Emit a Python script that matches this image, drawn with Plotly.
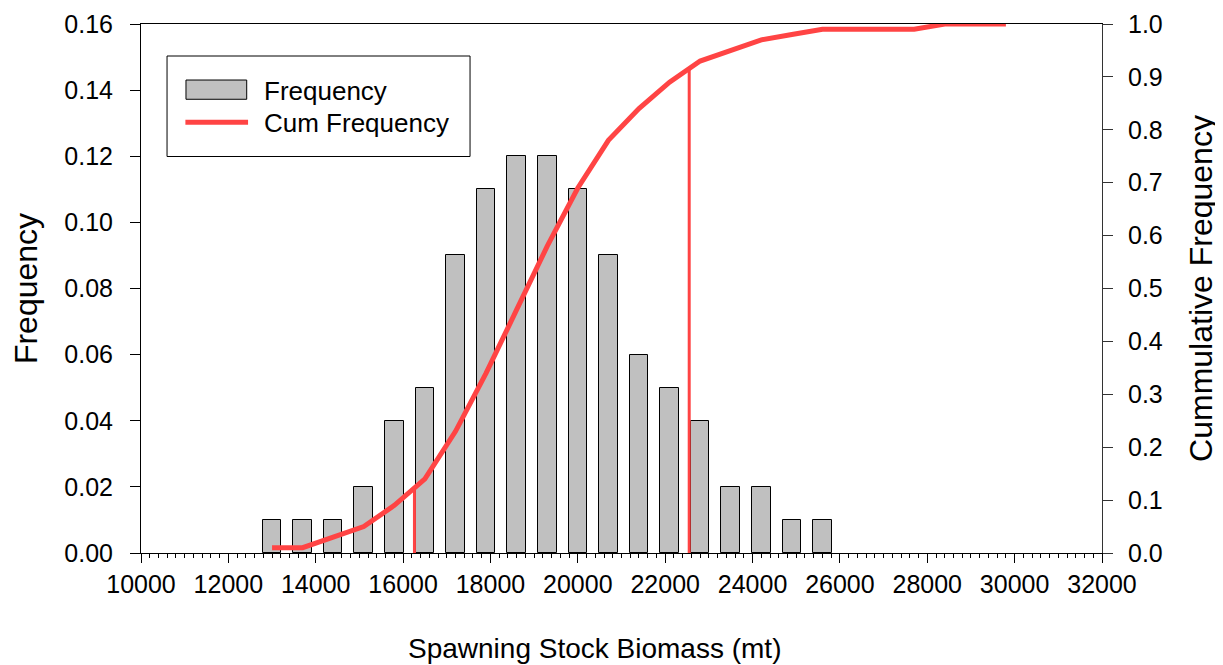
import numpy as np
import plotly.graph_objects as go

# ---- data ----
bin_centers = [13000, 13700, 14400, 15100, 15800, 16500, 17200, 17900, 18600, 19300,
               20000, 20700, 21400, 22100, 22800, 23500, 24200, 24900, 25600]
frequency = [0.01, 0.01, 0.01, 0.02, 0.04, 0.05, 0.09, 0.11, 0.12, 0.12,
             0.11, 0.09, 0.06, 0.05, 0.04, 0.02, 0.02, 0.01, 0.01]

cum_x = [13000, 13700, 14400, 15100, 15800, 16500, 17200, 17900, 18600, 19300,
         20000, 20700, 21400, 22100, 22800, 23500, 24200, 24900, 25600, 26300,
         27000, 27700, 28400, 29100, 29800]
cum_freq = [0.01, 0.01, 0.03, 0.05, 0.09, 0.14, 0.23, 0.34, 0.46, 0.58,
            0.69, 0.78, 0.84, 0.89, 0.93, 0.95, 0.97, 0.98, 0.99, 0.99,
            0.99, 0.99, 1.00, 1.00, 1.00]

quantile_x = [16260, 22550]   # vertical marker lines (lower / upper percentile)

x_ticks = [10000, 12000, 14000, 16000, 18000, 20000, 22000, 24000, 26000, 28000, 30000, 32000]

RED = "#ff4444"
FONT = "Liberation Sans, Arial, sans-serif"

fig = go.Figure()

fig.add_trace(go.Bar(
    x=bin_centers, y=frequency, width=425, name="Frequency",
    marker=dict(color="#c0c0c0", line=dict(color="#000000", width=1)),
    showlegend=False, yaxis="y",
))

fig.add_trace(go.Scatter(
    x=cum_x, y=cum_freq, mode="lines", name="Cum Frequency",
    line=dict(color=RED, width=5), yaxis="y2", showlegend=False,
))

q_heights = np.interp(quantile_x, cum_x, cum_freq)
for qx, qh in zip(quantile_x, q_heights):
    fig.add_trace(go.Scatter(
        x=[qx, qx], y=[0, float(qh)], mode="lines",
        line=dict(color=RED, width=3), yaxis="y2", showlegend=False,
        hoverinfo="skip",
    ))

# ---- custom legend (box, swatches, labels) ----
shapes = [
    dict(type="rect", xref="paper", yref="paper", x0=0.0271, x1=0.3424, y0=0.7495, y1=0.9395,
         line=dict(color="#000000", width=1), fillcolor="white", layer="below"),
    dict(type="rect", xref="paper", yref="paper", x0=0.0468, x1=0.110, y0=0.8577, y1=0.8941,
         line=dict(color="#000000", width=1), fillcolor="#c0c0c0"),
    dict(type="line", xref="paper", yref="paper", x0=0.0462, x1=0.1114, y0=0.8142, y1=0.8142,
         line=dict(color=RED, width=5)),
]
annotations = [
    dict(text="Frequency", xref="paper", yref="paper", x=0.1256, y=0.874,
         xanchor="left", yanchor="middle", showarrow=False, font=dict(size=26, color="black", family=FONT)),
    dict(text="Cum Frequency", xref="paper", yref="paper", x=0.1256, y=0.812,
         xanchor="left", yanchor="middle", showarrow=False, font=dict(size=26, color="black", family=FONT)),
    # x-axis title
    dict(text="Spawning Stock Biomass (mt)", xref="paper", yref="paper", x=0.4724, y=-0.1796,
         xanchor="center", yanchor="middle", showarrow=False, font=dict(size=28, color="black", family=FONT)),
]

fig.update_layout(
    width=1223, height=665,
    margin=dict(l=133, r=129, t=16, b=120, autoexpand=False),
    paper_bgcolor="white", plot_bgcolor="white",
    font=dict(family=FONT, size=25, color="black"),
    bargap=0,
    showlegend=False,
    shapes=shapes, annotations=annotations,
    xaxis=dict(
        range=[10000, 32000], tickvals=x_ticks, tickformat="d", automargin=False,
        ticks="outside", ticklen=9, tickwidth=1, tickcolor="black",
        showline=True, linecolor="black", linewidth=1, mirror=True,
        showgrid=False, zeroline=False,
        minor=dict(dtick=200, ticks="outside", ticklen=4, tickcolor="black", showgrid=False),
        tickfont=dict(size=25),
    ),
    yaxis=dict(
        range=[0, 0.16], dtick=0.02, tickformat=".2f", automargin=False,
        ticks="outside", ticklen=10, tickwidth=1, tickcolor="black",
        showline=True, linecolor="black", linewidth=1,
        showgrid=False, zeroline=False,
        ticklabelstandoff=12,
        title=dict(text="Frequency", font=dict(size=32), standoff=25),
        tickfont=dict(size=25),
    ),
    yaxis2=dict(
        range=[0, 1.0], dtick=0.1, tickformat=".1f", automargin=False,
        overlaying="y", side="right",
        ticks="outside", ticklen=10, tickwidth=1, tickcolor="#333333",
        showline=True, linecolor="#333333", linewidth=1,
        showgrid=False, zeroline=False,
        ticklabelstandoff=10,
        title=dict(text="Cummulative Frequency", font=dict(size=32), standoff=27),
        tickfont=dict(size=25),
    ),
)

fig.write_html("out.html")
